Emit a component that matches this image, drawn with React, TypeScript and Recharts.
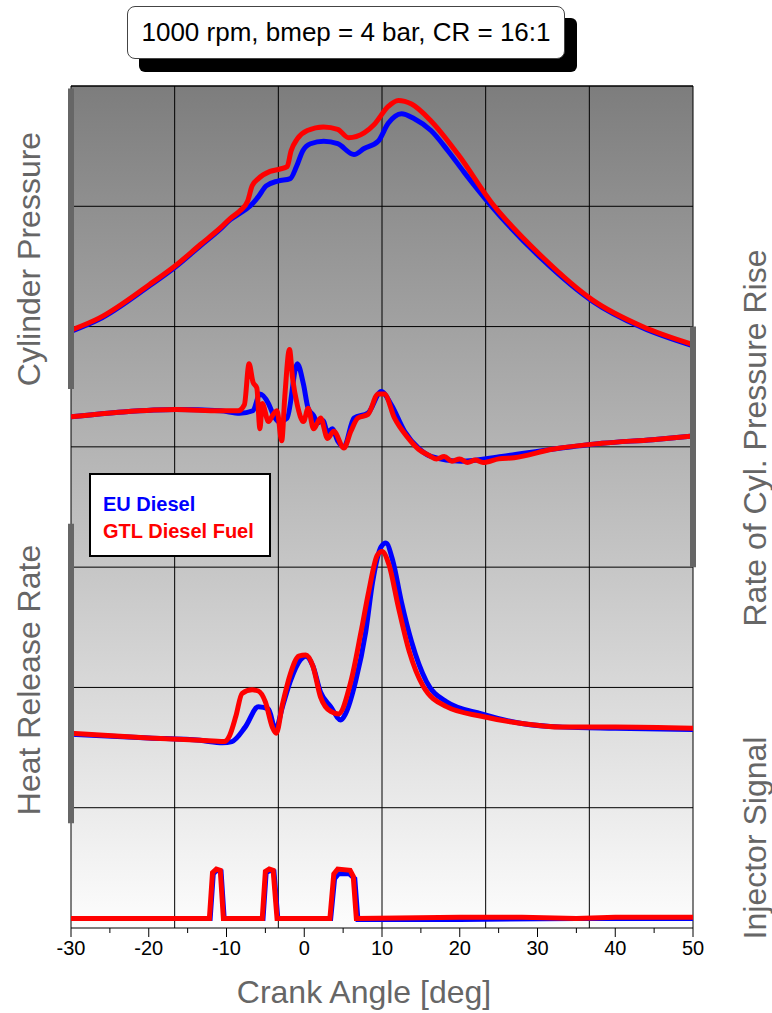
import { ComposedChart, Line, XAxis, YAxis, ReferenceLine, CartesianGrid } from "recharts"

// crank angle [deg] and curve values (in grid-row units, 0 = bottom, 7 = top)
const DEG_P_EU = [-30, -26.4, -19.9, -16.5, -13.4, -10.8, -9.5, -8.3, -7.0, -5.9, -4.9, -3.4, -1.8, -1.0, -0.2, 0.8, 2.5, 4.3, 6.4, 7.7, 9.5, 10.8, 12.5, 14.1, 16.3, 18.5, 20.6, 24.1, 30.6, 37.1, 43.5, 50]
const P_EU = [4.96, 5.06, 5.34, 5.5, 5.67, 5.81, 5.89, 5.94, 6.0, 6.08, 6.17, 6.21, 6.23, 6.33, 6.46, 6.52, 6.54, 6.52, 6.43, 6.48, 6.54, 6.69, 6.77, 6.73, 6.63, 6.46, 6.28, 6.0, 5.56, 5.21, 4.99, 4.84]

const DEG_P_GTL = [-30, -26.4, -19.9, -16.5, -13.4, -10.8, -9.5, -8.3, -7.3, -6.7, -5.9, -4.4, -3.1, -2.2, -1.7, -0.9, 0.4, 2.5, 4.3, 5.7, 7.7, 9.0, 10.8, 12.1, 13.8, 16.3, 19.8, 24.1, 30.6, 37.1, 43.5, 50]
const P_GTL = [4.97, 5.07, 5.35, 5.51, 5.68, 5.82, 5.9, 5.96, 6.04, 6.17, 6.23, 6.29, 6.31, 6.33, 6.46, 6.56, 6.63, 6.66, 6.64, 6.57, 6.61, 6.68, 6.83, 6.88, 6.85, 6.71, 6.43, 6.03, 5.58, 5.22, 5.0, 4.85]

const DEG_DP_EU = [-30, -23.3, -16.5, -10.8, -8.3, -6.6, -5.7, -4.6, -4.0, -3.3, -2.2, -0.9, -0.1, 0.5, 1.2, 1.7, 2.4, 3.0, 3.6, 4.3, 5.1, 6.4, 8.2, 9.9, 11.2, 12.9, 14.7, 16.3, 20.2, 25.4, 31.9, 38.3, 44.8, 50]
const DP_EU = [4.25, 4.29, 4.31, 4.3, 4.28, 4.3, 4.44, 4.36, 4.27, 4.21, 4.24, 4.69, 4.52, 4.32, 4.26, 4.2, 4.22, 4.12, 4.15, 4.05, 4.0, 4.24, 4.28, 4.46, 4.35, 4.13, 3.99, 3.92, 3.88, 3.92, 3.98, 4.03, 4.06, 4.09]

const DEG_DP_GTL = [-30, -23.3, -16.5, -10.8, -8.5, -7.7, -7.1, -6.6, -6.1, -5.7, -5.4, -4.6, -4.0, -3.5, -2.9, -2.5, -1.9, -1.5, -0.9, -0.1, 0.5, 1.2, 2.1, 3.0, 3.8, 5.1, 6.0, 6.9, 8.2, 9.5, 10.3, 11.6, 13.4, 14.7, 16, 17, 18, 19, 20, 21, 22, 23, 25, 27, 31.9, 38.3, 44.8, 50]
const DP_GTL = [4.25, 4.29, 4.31, 4.3, 4.3, 4.35, 4.69, 4.54, 4.49, 4.15, 4.36, 4.21, 4.27, 4.3, 4.05, 4.42, 4.81, 4.57, 4.35, 4.21, 4.32, 4.15, 4.24, 4.07, 4.13, 3.99, 4.13, 4.24, 4.27, 4.44, 4.44, 4.24, 4.07, 3.98, 3.93, 3.9, 3.92, 3.88, 3.9, 3.87, 3.89, 3.87, 3.9, 3.91, 3.98, 4.03, 4.06, 4.09]

const DEG_HRR_EU = [-30, -20, -13.4, -10.5, -9.3, -7.6, -5.9, -4.6, -3.7, -2.8, -1.8, -0.5, 0.2, 1.1, 2.1, 3.4, 4.7, 5.3, 6.6, 7.9, 8.8, 9.9, 10.5, 11.4, 12.5, 13.8, 15.7, 18.3, 22.8, 28, 33.2, 40, 50]
const HRR_EU = [1.61, 1.58, 1.56, 1.54, 1.55, 1.67, 1.84, 1.82, 1.65, 1.84, 2.05, 2.23, 2.26, 2.18, 1.96, 1.84, 1.73, 1.78, 2.05, 2.46, 2.88, 3.17, 3.2, 3.05, 2.71, 2.38, 2.05, 1.88, 1.78, 1.7, 1.67, 1.66, 1.65]

const DEG_HRR_GTL = [-30, -20, -13.4, -10.3, -9.6, -8.8, -8.0, -6.7, -5.9, -5.0, -4.1, -3.6, -2.8, -1.8, -0.7, 0.2, 1.1, 2.1, 3.4, 4.4, 6.0, 7.3, 8.3, 9.4, 10.0, 10.9, 12.1, 13.5, 15.3, 18.3, 22.8, 28, 33.2, 40, 50]
const HRR_GTL = [1.62, 1.58, 1.56, 1.55, 1.6, 1.76, 1.95, 1.98, 1.97, 1.88, 1.67, 1.62, 1.86, 2.11, 2.26, 2.27, 2.18, 1.92, 1.8, 1.78, 2.05, 2.46, 2.8, 3.1, 3.13, 3.02, 2.67, 2.3, 2.01, 1.84, 1.76, 1.7, 1.67, 1.67, 1.66]

const DEG_INJ_EU = [-30, -12.1, -11.7, -11.3, -10.7, -10.3, -5.3, -4.9, -4.4, -3.9, -3.4, 3.4, 3.9, 4.4, 5.8, 6.5, 6.9, 20, 35, 50]
const INJ_EU = [0.08, 0.08, 0.45, 0.48, 0.47, 0.08, 0.08, 0.46, 0.48, 0.47, 0.08, 0.08, 0.41, 0.45, 0.45, 0.41, 0.07, 0.07, 0.08, 0.08]

const DEG_INJ_GTL = [-30, -12.2, -11.8, -11.3, -10.8, -10.4, -5.4, -5.0, -4.5, -4.0, -3.5, 3.3, 3.8, 4.3, 5.9, 6.3, 6.7, 20, 28, 35, 40, 50]
const INJ_GTL = [0.08, 0.08, 0.46, 0.49, 0.48, 0.08, 0.08, 0.47, 0.49, 0.48, 0.08, 0.08, 0.45, 0.49, 0.48, 0.43, 0.08, 0.09, 0.09, 0.08, 0.09, 0.09]

const X_TICKS = [-30, -25, -20, -15, -10, -5, 0, 5, 10, 15, 20, 25, 30, 35, 40, 45, 50]
const GRID_X = [-30 + 80 / 6, -30 + 160 / 6, 10, -30 + 320 / 6, -30 + 400 / 6]
const GRID_Y = [1, 2, 3, 4, 5, 6]

const FONT = '"Liberation Sans", Arial, sans-serif'
const BLUE = "#0000ff"
const RED = "#ff0000"
const LABEL_GRAY = "#666666"

const pts = (xs: number[], ys: number[]) => xs.map((deg, i) => ({ deg, v: ys[i] }))

const XTick = (props: any) => {
  const { x, y, payload } = props
  const major = payload.value % 10 === 0
  return (
    <g>
      <line x1={x} x2={x} y1={y} y2={y + (major ? 9 : 5)} stroke="#000" strokeWidth={1} />
      {major && (
        <text x={x} y={y + 27} textAnchor="middle" fontSize={20} fontFamily={FONT} fill="#000">
          {payload.value}
        </text>
      )}
    </g>
  )
}

const SideLabel = ({ text, cx, cy }: { text: string; cx: number; cy: number }) => (
  <div
    style={{
      position: "absolute",
      left: cx,
      top: cy,
      transform: "translate(-50%, -50%) rotate(-90deg)",
      whiteSpace: "nowrap",
      fontFamily: FONT,
      fontSize: 32,
      lineHeight: 1,
      color: LABEL_GRAY,
    }}
  >
    {text}
  </div>
)

export default function App() {
  return (
    <div style={{ position: "absolute", left: 0, top: 0, width: 772, height: 1013, background: "#fff" }}>
      <ComposedChart width={772} height={1013} margin={{ top: 86, right: 79, bottom: 25, left: 71 }}>
        <defs>
          <linearGradient id="plotBg" x1="0" y1="0" x2="0" y2="1">
            <stop offset="0%" stopColor="#7d7d7d" />
            <stop offset="100%" stopColor="#fdfdfd" />
          </linearGradient>
        </defs>
        <CartesianGrid horizontal={false} vertical={false} fill="url(#plotBg)" />
        <XAxis
          type="number"
          dataKey="deg"
          domain={[-30, 50]}
          ticks={X_TICKS}
          interval={0}
          height={60}
          tickSize={0}
          tickMargin={0}
          tickLine={false}
          axisLine={{ stroke: "#000", strokeWidth: 1 }}
          tick={<XTick />}
          allowDataOverflow
        />
        <YAxis type="number" domain={[0, 7]} hide allowDataOverflow />

        {GRID_X.map((g) => (
          <ReferenceLine key={`gx${g}`} x={g} stroke="#000" strokeWidth={1} />
        ))}
        {GRID_Y.map((g) => (
          <ReferenceLine key={`gy${g}`} y={g} stroke="#000" strokeWidth={1} />
        ))}
        <ReferenceLine y={7} stroke="#000" strokeWidth={1.5} />
        <ReferenceLine x={-30} stroke="#000" strokeWidth={1} />
        <ReferenceLine x={50} stroke="#000" strokeWidth={1} />

        <Line data={pts(DEG_P_EU, P_EU)} dataKey="v" type="monotone" stroke={BLUE} strokeWidth={5} dot={false} isAnimationActive={false} />
        <Line data={pts(DEG_DP_EU, DP_EU)} dataKey="v" type="monotone" stroke={BLUE} strokeWidth={5} dot={false} isAnimationActive={false} />
        <Line data={pts(DEG_HRR_EU, HRR_EU)} dataKey="v" type="monotone" stroke={BLUE} strokeWidth={5} dot={false} isAnimationActive={false} />
        <Line data={pts(DEG_INJ_EU, INJ_EU)} dataKey="v" type="linear" stroke={BLUE} strokeWidth={5} dot={false} isAnimationActive={false} />
        <Line data={pts(DEG_P_GTL, P_GTL)} dataKey="v" type="monotone" stroke={RED} strokeWidth={5} dot={false} isAnimationActive={false} />
        <Line data={pts(DEG_DP_GTL, DP_GTL)} dataKey="v" type="monotone" stroke={RED} strokeWidth={5} dot={false} isAnimationActive={false} />
        <Line data={pts(DEG_HRR_GTL, HRR_GTL)} dataKey="v" type="monotone" stroke={RED} strokeWidth={5} dot={false} isAnimationActive={false} />
        <Line data={pts(DEG_INJ_GTL, INJ_GTL)} dataKey="v" type="linear" stroke={RED} strokeWidth={5} dot={false} isAnimationActive={false} />

        {/* axis bars of the four stacked traces */}
        <ReferenceLine segment={[{ x: -30, y: 4.48 }, { x: -30, y: 6.98 }]} stroke="#666" strokeWidth={6} />
        <ReferenceLine segment={[{ x: -30, y: 0.87 }, { x: -30, y: 3.36 }]} stroke="#666" strokeWidth={6} />
        <ReferenceLine segment={[{ x: 50, y: 3.0 }, { x: 50, y: 5.0 }]} stroke="#666" strokeWidth={6} />
        <ReferenceLine segment={[{ x: 50, y: -0.02 }, { x: 50, y: 1.45 }]} stroke="#666" strokeWidth={6} />
      </ComposedChart>

      {/* legend */}
      <div
        style={{
          position: "absolute",
          left: 89,
          top: 473,
          width: 182,
          height: 84,
          boxSizing: "border-box",
          border: "2px solid #000",
          background: "#fff",
          fontFamily: FONT,
          fontWeight: "bold",
          fontSize: 20,
          padding: "16px 0 0 12px",
          lineHeight: "27px",
        }}
      >
        <div style={{ color: BLUE }}>EU Diesel</div>
        <div style={{ color: RED }}>GTL Diesel Fuel</div>
      </div>

      {/* title box with drop shadow */}
      <div
        style={{
          position: "absolute",
          left: 139,
          top: 18,
          width: 438,
          height: 54,
          background: "#000",
          borderRadius: 6,
        }}
      />
      <div
        style={{
          position: "absolute",
          left: 127,
          top: 6,
          width: 438,
          height: 53,
          boxSizing: "border-box",
          border: "1px solid #444",
          borderRadius: 8,
          background: "#fff",
          fontFamily: FONT,
          fontSize: 26,
          display: "flex",
          alignItems: "center",
          justifyContent: "center",
          color: "#000",
        }}
      >
        1000 rpm, bmep = 4 bar, CR = 16:1
      </div>

      <SideLabel text="Cylinder Pressure" cx={29} cy={259} />
      <SideLabel text="Heat Release Rate" cx={29} cy={680} />
      <SideLabel text="Rate of Cyl. Pressure Rise" cx={755} cy={438} />
      <SideLabel text="Injector Signal" cx={755} cy={838} />

      <div
        style={{
          position: "absolute",
          left: 364,
          top: 992,
          transform: "translate(-50%, -50%)",
          whiteSpace: "nowrap",
          fontFamily: FONT,
          fontSize: 32,
          lineHeight: 1,
          color: LABEL_GRAY,
        }}
      >
        Crank Angle [deg]
      </div>
    </div>
  )
}
